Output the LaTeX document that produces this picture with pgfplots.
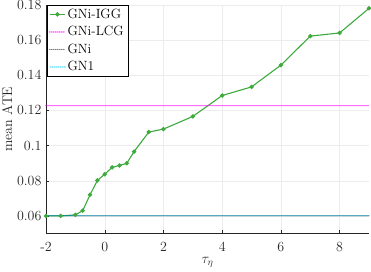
\documentclass[border=0pt]{standalone}
\usepackage{pgfplots}
\pgfplotsset{compat=1.18}
\definecolor{cIGG}{RGB}{62,170,62}
\definecolor{cLCG}{RGB}{255,0,255}
\definecolor{cGNone}{RGB}{0,200,255}
\definecolor{axgray}{RGB}{38,38,38}
\begin{document}
\begin{tikzpicture}
\begin{axis}[
  scale only axis,
  width=323pt, height=228.5pt,
  xmin=-2, xmax=9, ymin=0.05, ymax=0.18,
  axis x line*=bottom, axis y line*=left,
  axis line style={axgray, line width=0.5pt},
  xtick={-2,0,2,4,6,8},
  xticklabels={-2,0,2,4,6,8},
  ytick={0.06,0.08,0.1,0.12,0.14,0.16,0.18},
  yticklabels={0.06,0.08,0.1,0.12,0.14,0.16,0.18},
  tick align=inside,
  major tick length=3pt,
  tick style={axgray, line width=0.4pt},
  grid=major,
  major grid style={gray!15, line width=0.4pt},
  ticklabel style={font=\fontsize{14}{16}\selectfont, text=axgray},
  xticklabel style={yshift=-5pt},
  yticklabel style={xshift=-1pt},
  xlabel={$\tau_\eta$},
  ylabel={mean ATE},
  label style={font=\fontsize{14}{16}\selectfont, text=axgray},
  xlabel style={yshift=1pt},
  ylabel style={yshift=-2pt},
  clip=false,
  legend cell align=left,
  legend style={at={(0.003,0.999)}, anchor=north west,
    fill=white, font=\fontsize{13.4}{15}\selectfont, inner xsep=2pt, inner ysep=1.5pt,
    row sep=2.6pt},
  legend image code/.code={\draw[mark repeat=2,mark phase=2,#1] plot coordinates {(0pt,0pt) (7.5pt,0pt) (15pt,0pt)};},
]
\addplot[color=cIGG, line width=1.1pt, mark=*, mark size=1.6pt, mark options={solid, fill=cIGG}] coordinates {
(-2,0.0600) (-1.5,0.0600) (-1,0.0606) (-0.75,0.0630) (-0.5,0.0720) (-0.25,0.0802)
(0,0.0837) (0.25,0.0876) (0.5,0.0887) (0.75,0.0899) (1,0.0966) (1.5,0.1077)
(2,0.1094) (3,0.1166) (4,0.1285) (5,0.1334) (6,0.1458) (7,0.1623) (8,0.1641) (9,0.1781)};
\addlegendentry{GNi-IGG}
\addplot[color=cLCG, line width=1.45pt, line cap=round, dash pattern=on 0pt off 2pt] coordinates {(-2,0.1227) (9,0.1227)};
\addlegendentry{GNi-LCG}
\addplot[color=black, line width=1.2pt, line cap=round, dash pattern=on 0pt off 2pt] coordinates {(-2,0.0601) (9,0.0601)};
\addlegendentry{GNi}
\addplot[color=cGNone, line width=1.45pt, line cap=round, dash pattern=on 0pt off 2pt, dash phase=1pt] coordinates {(-2,0.0601) (9,0.0601)};
\addlegendentry{GN1}
\end{axis}
\pgfresetboundingbox
\path ([shift={(-46pt,-38.5pt)}]current axis.south west) rectangle ([shift={(2pt,5pt)}]current axis.north east);
\end{tikzpicture}
\end{document}
